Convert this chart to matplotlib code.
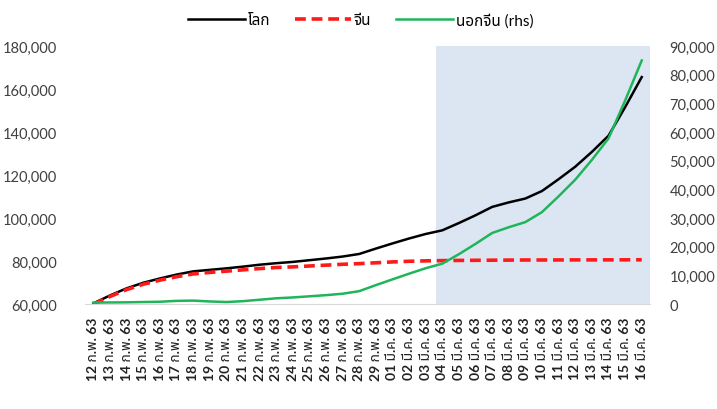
import matplotlib
matplotlib.use("Agg")
import matplotlib.pyplot as plt
from matplotlib.ticker import FuncFormatter, MultipleLocator

plt.rcParams['font.family'] = ['Lato', 'Noto Sans Thai', 'Sarabun', 'Kanit', 'DejaVu Sans']

# dates (Thai short form), 12 Feb - 16 Mar 2020
feb_days = [str(d) for d in range(12, 30)]
mar_days = ["%02d" % d for d in range(1, 17)]
labels = [d + " ก.พ. 63" for d in feb_days] + [d + " มี.ค. 63" for d in mar_days]

# cumulative cases
world = [60300, 64000, 67300, 69900, 71900, 73700, 75200, 75900, 76600, 77400,
         78300, 79000, 79600, 80400, 81200, 82100, 83300, 85800, 88200, 90500,
         92600, 94300, 97700, 101300, 105200, 107300, 109100, 112600, 118100, 123900,
         130800, 138300, 151600, 165600]
china = [59900, 63500, 66700, 69200, 71100, 72700, 74000, 74700, 75300, 75900,
         76500, 77000, 77300, 77700, 78100, 78500, 78800, 79200, 79600, 79900,
         80100, 80200, 80300, 80350, 80400, 80450, 80500, 80500, 80520, 80540,
         80550, 80560, 80580, 80600]
outside = [500, 550, 600, 700, 800, 1100, 1200, 900, 700, 1000,
           1500, 2000, 2300, 2700, 3100, 3600, 4500, 6600, 8600, 10600,
           12500, 14100, 17400, 21000, 24800, 26800, 28600, 32100, 37600, 43400,
           50300, 57800, 71000, 85000]

x = list(range(len(labels)))

fig = plt.figure(figsize=(7.17, 4.10), dpi=100)
ax = fig.add_axes([0.1186, 0.256, 0.788, 0.629])
ax2 = ax.twinx()

ax.axvspan(20.6, 33.5, color='#dce6f2', zorder=0, lw=0)

l1, = ax.plot(x, world, color='black', lw=1.8, label='โลก')
l2, = ax.plot(x, china, color='#ff1a1a', lw=2.6, ls=(0, (3, 1.6)), label='จีน')
l3, = ax2.plot(x, outside, color='#1fb55a', lw=1.8, label='นอกจีน (rhs)')

ax.set_xlim(-0.5, 33.5)
ax.set_ylim(60000, 180000)
ax2.set_ylim(0, 90000)
ax.yaxis.set_major_locator(MultipleLocator(20000))
ax2.yaxis.set_major_locator(MultipleLocator(10000))
fmt = FuncFormatter(lambda v, p: "{:,.0f}".format(v))
ax.yaxis.set_major_formatter(fmt)
ax2.yaxis.set_major_formatter(fmt)

ax.set_xticks(x)
ax.set_xticklabels(labels, rotation=90, fontsize=10, fontweight='bold', color='#222222')

for a in (ax, ax2):
    for s in a.spines.values():
        s.set_visible(False)
    a.tick_params(length=0, labelsize=10.5, labelcolor='#404040')
ax.spines['bottom'].set_visible(True)
ax.spines['bottom'].set_color('#d9d9d9')
ax.tick_params(axis='y', pad=20)
ax2.tick_params(axis='y', pad=14)
ax.tick_params(axis='x', pad=9, labelsize=10, labelcolor='#222222')

fig.legend(handles=[l1, l2, l3], loc='upper center', bbox_to_anchor=(0.503, 1.0),
           ncol=3, frameon=False, fontsize=11,
           handlelength=3.7, columnspacing=1.6, handletextpad=0.2)

fig.savefig("out.png")
